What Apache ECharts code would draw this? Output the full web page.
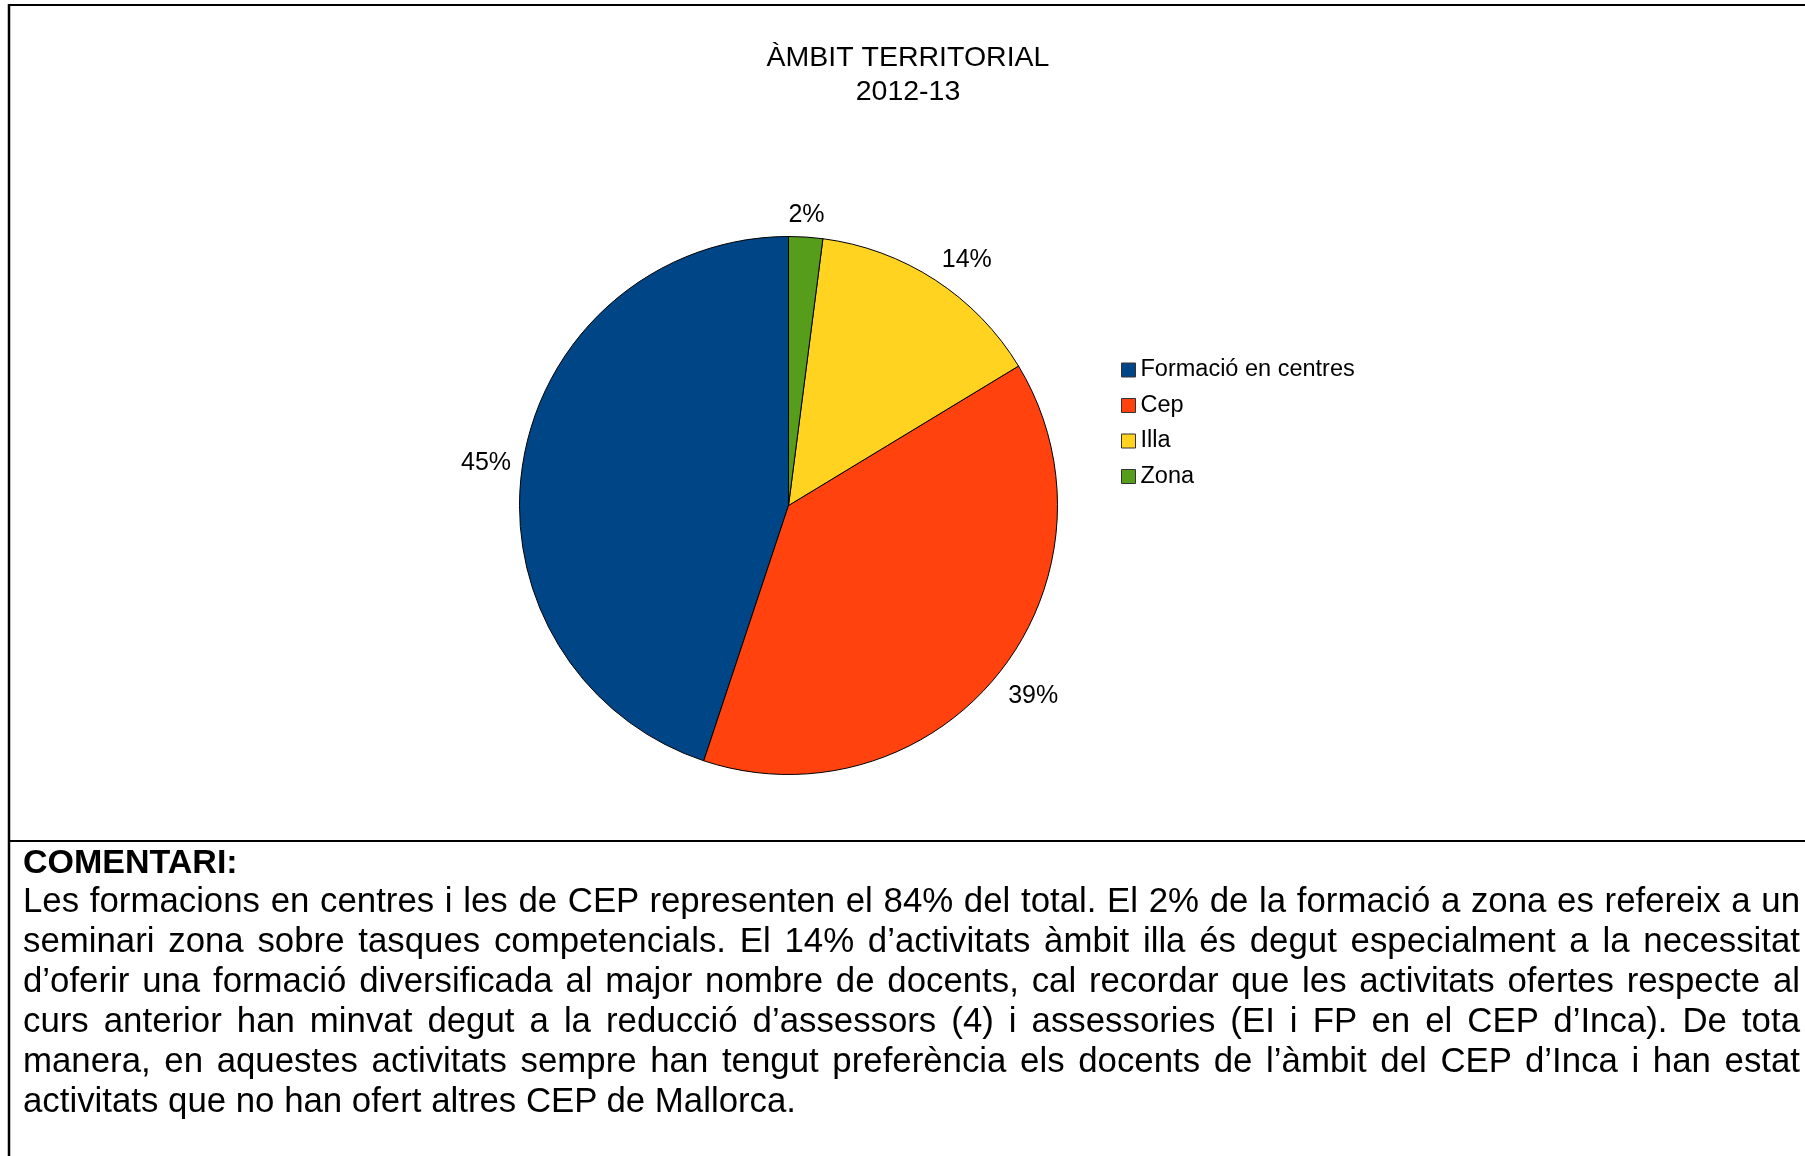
<!DOCTYPE html>
<html>
<head>
<meta charset="utf-8">
<title>Àmbit territorial 2012-13</title>
<script src="https://cdn.jsdelivr.net/npm/echarts@6/dist/echarts.min.js"></script>
<style>
  body { margin: 0; background: #fff; }
  #chart { position: absolute; left: 0; top: 0; width: 1805px; height: 1156px; }
  .head {
    position: absolute; left: 23px; top: 842px;
    font: bold 34px/38px "Liberation Sans", Arial, sans-serif;
    white-space: nowrap; color: #000;
  }
  .body {
    position: absolute; left: 23px; top: 879.5px; width: 1777px;
    font: 34.8px/40.1px "Liberation Sans", Arial, sans-serif;
    color: #000;
  }
  .body div { text-align: justify; text-align-last: justify; white-space: nowrap; }
  .body div.last { text-align-last: left; }
</style>
</head>
<body>
<div id="chart"></div>
<div class="head">COMENTARI:</div>
<div class="body">
  <div>Les formacions en centres i les de CEP representen el 84% del total. El 2% de la formació a zona es refereix a un</div>
  <div>seminari zona sobre tasques competencials. El 14% d’activitats àmbit illa és degut especialment a la necessitat</div>
  <div>d’oferir una formació diversificada al major nombre de docents, cal recordar que les activitats ofertes respecte al</div>
  <div>curs anterior han minvat degut a la reducció d’assessors (4) i assessories (EI i FP en el CEP d’Inca). De tota</div>
  <div>manera, en aquestes activitats sempre han tengut preferència els docents de l’àmbit del CEP d’Inca i han estat</div>
  <div class="last">activitats que no han ofert altres CEP de Mallorca.</div>
</div>
<script>
// dades del gràfic
var titleLines = ['ÀMBIT TERRITORIAL', '2012-13'];
var categories = ['Formació en centres', 'Cep', 'Illa', 'Zona'];
var values = [22, 19, 7, 1];
var colors = ['#004586', '#ff420e', '#ffd320', '#579d1c'];

var font = '"Liberation Sans", Arial, sans-serif';
var pieCenter = [788.5, 505.5];
var pieRadius = 269;
var labelGap = 12;

var total = 0;
for (var i = 0; i < values.length; i++) total += values[i];

// etiquetes a l'estil LibreOffice: la caixa toca el punt de l'angle mitjà
function labelSpot(params) {
    var idx = params.dataIndex;
    var before = 0;
    for (var k = 0; k < idx; k++) before += values[k];
    var mid = (90 + 360 * (before + values[idx] / 2) / total) * Math.PI / 180;
    var c = Math.cos(mid), s = Math.sin(mid);
    var r = pieRadius + labelGap;
    return {
        x: pieCenter[0] + c * r,
        y: pieCenter[1] - s * r + 2.5,
        align: c > 0.38 ? 'left' : (c < -0.38 ? 'right' : 'center'),
        verticalAlign: s > 0.38 ? 'bottom' : (s < -0.38 ? 'top' : 'middle')
    };
}

var chart = echarts.init(document.getElementById('chart'));

var pieData = categories.map(function (name, idx) {
    return { name: name, value: values[idx] };
});

var option = {
    animation: false,
    color: colors,
    textStyle: { fontFamily: font },
    graphic: [
        { type: 'line', shape: { x1: 8, y1: 5, x2: 1805, y2: 5 }, style: { stroke: '#000', lineWidth: 2 } },
        { type: 'line', shape: { x1: 9, y1: 4, x2: 9, y2: 1156 }, style: { stroke: '#000', lineWidth: 2.5 } },
        { type: 'line', shape: { x1: 8, y1: 841, x2: 1805, y2: 841 }, style: { stroke: '#000', lineWidth: 2 } },
        {
            type: 'text', x: 908, y: 41,
            style: {
                text: titleLines.join('\n'),
                fontFamily: font, fontSize: 28.5, lineHeight: 34,
                align: 'center', verticalAlign: 'top', fill: '#000'
            }
        }
    ],
    legend: {
        orient: 'vertical',
        left: 1121,
        top: 358,
        padding: 0,
        icon: 'rect',
        itemWidth: 14,
        itemHeight: 14,
        itemGap: 11.5,
        itemStyle: { borderColor: '#333', borderWidth: 1 },
        textStyle: { fontSize: 23.5, color: '#000', fontFamily: font },
        data: categories
    },
    series: [{
        name: 'Àmbit territorial',
        type: 'pie',
        center: pieCenter,
        radius: pieRadius,
        startAngle: 90,
        clockwise: false,
        avoidLabelOverlap: false,
        percentPrecision: 0,
        itemStyle: { borderColor: '#000', borderWidth: 1 },
        label: {
            show: true,
            position: 'outside',
            formatter: '{d}%',
            fontSize: 25,
            color: '#000',
            fontFamily: font
        },
        labelLine: { show: false, length: 0, length2: 0 },
        labelLayout: labelSpot,
        emphasis: { disabled: true },
        data: pieData
    }]
};

chart.setOption(option);
</script>
</body>
</html>
